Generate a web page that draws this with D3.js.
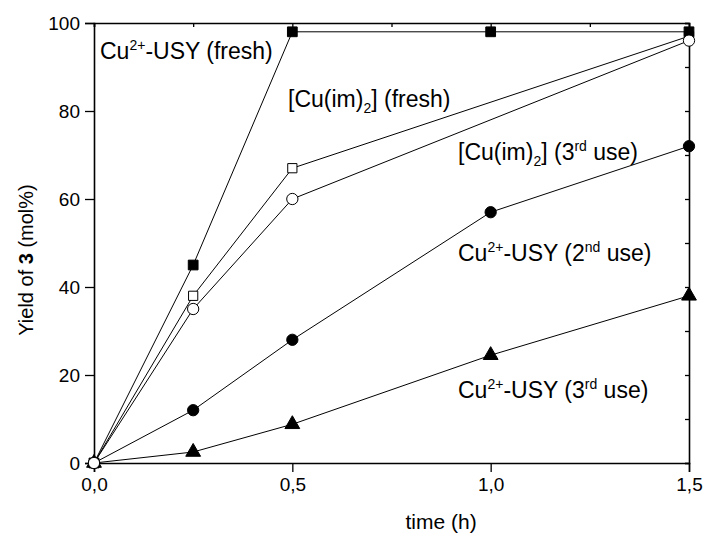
<!DOCTYPE html>
<html>
<head>
<meta charset="utf-8">
<script src="https://cdn.jsdelivr.net/npm/d3@7/dist/d3.min.js"></script>
<style>
body { margin:0; background:#fff; }
text { font-family: Arial, "Liberation Sans", sans-serif; }
</style>
</head>
<body>
<div id="plot"></div>
<script>
// data
var times = [0, 0.25, 0.5, 1.0, 1.5];
var usyFresh = [0, 45, 98, 98, 98];
var imFresh = [[0,0],[0.25,38],[0.5,67],[1.5,97]];
var imThird = [[0,0],[0.25,35],[0.5,60],[1.5,96]];
var usySecond = [0, 12, 28, 57, 72];
var usyThird = [0, 2.5, 8.8, 24.5, 38];
var xTicks = [0, 0.5, 1.0, 1.5];
var yTicks = [0, 20, 40, 60, 80, 100];

var margin = {t:23, r:16, b:73, l:94};
var W = 705, H = 536;
var width = W - margin.l - margin.r,
    height = H - margin.t - margin.b;

var svg = d3.select('#plot').append('svg')
	.attr('width', W)
	.attr('height', H);

var plot = svg.append('g')
	.attr('transform', 'translate(' + margin.l + ',' + margin.t + ')');

var x = d3.scaleLinear().domain([0, 1.5]).range([0, width]);
var y = d3.scaleLinear().domain([0, 100]).range([height, 0]);

var fmt = function (d) { return d3.format('.1f')(d).replace('.', ','); };

// minor ticks
var xMinor = d3.range(0, 1.51, 0.25);
var yMinor = d3.range(0, 101, 10);

// bottom axis
var bx = plot.append('g').attr('transform', 'translate(0,' + height + ')');
bx.call(d3.axisBottom(x).tickValues(xMinor).tickSize(5).tickFormat(''));
bx.call(d3.axisBottom(x).tickValues(xTicks).tickSize(9).tickPadding(6).tickFormat(fmt));
// left axis
var ly = plot.append('g');
ly.call(d3.axisLeft(y).tickValues(yMinor).tickSize(5).tickFormat(''));
ly.call(d3.axisLeft(y).tickValues(yTicks).tickSize(9).tickPadding(5).tickFormat(d3.format('d')));
// top and right: inward ticks
plot.append('g').call(d3.axisTop(x).tickValues(xMinor).tickSize(-4).tickFormat(''));
plot.append('g').attr('transform', 'translate(' + width + ',0)')
	.call(d3.axisRight(y).tickValues(yMinor).tickSize(-4).tickFormat(''));

plot.selectAll('.domain').attr('stroke', '#000').attr('stroke-width', 1.6);
plot.selectAll('.tick line').attr('stroke', '#000').attr('stroke-width', 1.3);
plot.selectAll('.tick text').attr('font-size', 19).attr('fill', '#000')
	.style('font-family', 'Arial, "Liberation Sans", sans-serif');

var line = d3.line().x(function (d) { return x(d[0]); }).y(function (d) { return y(d[1]); });

function pairs(vals) { return times.map(function (t, i) { return [t, vals[i]]; }); }

var series = [
	{data: pairs(usyThird), sym: d3.symbolTriangle, size: 95, fill: '#000'},
	{data: pairs(usySecond), sym: d3.symbolCircle, size: 100, fill: '#000'},
	{data: imFresh, sym: d3.symbolSquare, size: 85, fill: '#fff'},
	{data: pairs(usyFresh), sym: d3.symbolSquare, size: 95, fill: '#000'},
	{data: imThird, sym: d3.symbolCircle, size: 100, fill: '#fff'}
];

series.forEach(function (s) {
	plot.append('path')
		.attr('d', line(s.data))
		.attr('fill', 'none')
		.attr('stroke', '#000')
		.attr('stroke-width', 1);
});
series.forEach(function (s) {
	plot.selectAll(null)
		.data(s.data)
		.enter()
		.append('path')
		.attr('d', d3.symbol().type(s.sym).size(s.size))
		.attr('transform', function (d) { return 'translate(' + x(d[0]) + ',' + y(d[1]) + ')'; })
		.attr('fill', s.fill)
		.attr('stroke', '#000')
		.attr('stroke-width', 1);
});

// annotations: parts [text, mode] where mode is '', 'sup' or 'sub'
var labels = [
	{x: 100, y: 59, parts: [['Cu',''],['2+','sup'],['-USY (fresh)','']]},
	{x: 288, y: 107, parts: [['[Cu(im)',''],['2','sub'],['] (fresh)','']]},
	{x: 458, y: 160, parts: [['[Cu(im)',''],['2','sub'],['] (3',''],['rd','sup'],[' use)','']]},
	{x: 458, y: 261, parts: [['Cu',''],['2+','sup'],['-USY (2',''],['nd','sup'],[' use)','']]},
	{x: 458, y: 398, parts: [['Cu',''],['2+','sup'],['-USY (3',''],['rd','sup'],[' use)','']]}
];

labels.forEach(function (l) {
	var t = svg.append('text')
		.attr('x', l.x)
		.attr('y', l.y)
		.attr('font-size', 23)
		.attr('fill', '#000');
	var shift = 0;
	l.parts.forEach(function (p) {
		var target = p[1] == 'sup' ? -9 : (p[1] == 'sub' ? 6 : 0);
		var ts = t.append('tspan').text(p[0]).attr('dy', target - shift);
		if (p[1] != '') ts.attr('font-size', 14);
		shift = target;
	});
});

// axis titles
svg.append('text')
	.attr('x', margin.l + x(0.875))
	.attr('y', 529)
	.attr('text-anchor', 'middle')
	.attr('font-size', 21)
	.text('time (h)');

var yt = svg.append('text')
	.attr('transform', 'translate(33,260) rotate(-90)')
	.attr('text-anchor', 'middle')
	.attr('font-size', 20);
yt.append('tspan').text('Yield of ');
yt.append('tspan').text('3').attr('font-weight', 'bold');
yt.append('tspan').text(' (mol%)');
</script>
</body>
</html>
